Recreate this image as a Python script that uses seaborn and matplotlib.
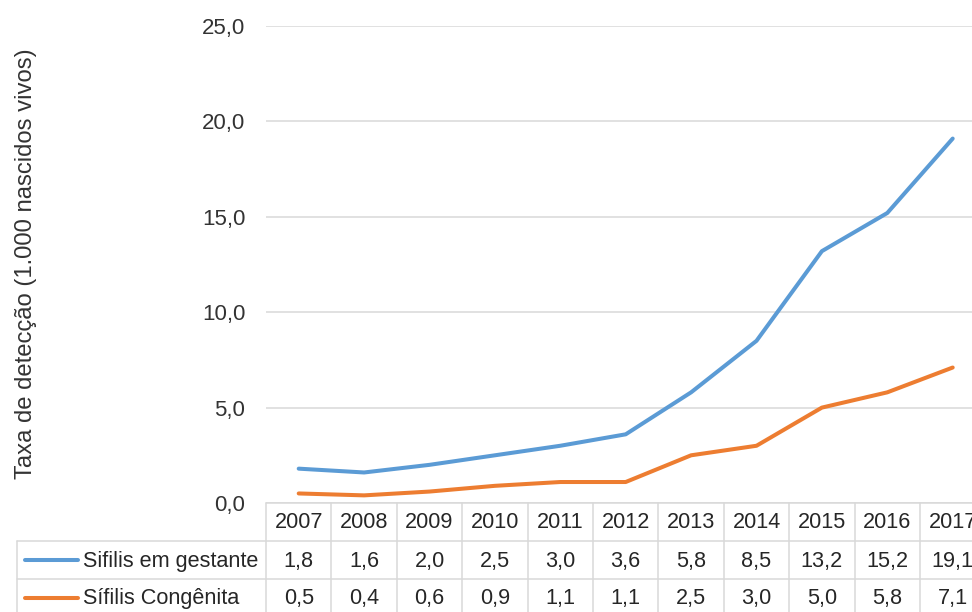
import matplotlib
matplotlib.use("Agg")
import matplotlib.pyplot as plt
import matplotlib.transforms as mtransforms
from matplotlib.lines import Line2D
import seaborn as sns
import pandas as pd

years = ["2007", "2008", "2009", "2010", "2011", "2012", "2013", "2014", "2015", "2016", "2017"]
gestante = [1.8, 1.6, 2.0, 2.5, 3.0, 3.6, 5.8, 8.5, 13.2, 15.2, 19.1]
congenita = [0.5, 0.4, 0.6, 0.9, 1.1, 1.1, 2.5, 3.0, 5.0, 5.8, 7.1]
series_names = ["Sifilis em gestante", "Sífilis Congênita"]
colors = ["#5B9BD5", "#ED7D31"]
y_label = "Taxa de detecção (1.000 nascidos vivos)"
y_ticks = [0, 5, 10, 15, 20, 25]

sns.set_theme(style="white")
plt.rcParams['font.family'] = ['Liberation Sans', 'DejaVu Sans']

W, H = 972, 612
fig = plt.figure(figsize=(W / 100, H / 100), dpi=100)
left, right = 266, 985.4
top, bottom = 26, 503
ax = fig.add_axes([left / W, 1 - bottom / H, (right - left) / W, (bottom - top) / H])

df = pd.DataFrame({
    "pos": list(range(len(years))) * 2,
    "valor": gestante + congenita,
    "serie": [series_names[0]] * len(years) + [series_names[1]] * len(years),
})
sns.lineplot(data=df, x="pos", y="valor", hue="serie", palette=colors,
             linewidth=2.9, ax=ax, legend=False, solid_capstyle="round",
             solid_joinstyle="round")

ax.set_xlim(-0.5, len(years) - 0.5)
ax.set_ylim(0, 25)
ax.set_yticks(y_ticks)
ax.set_yticklabels([f"{v:.1f}".replace(".", ",") for v in y_ticks], fontsize=16, color="#333333")
ax.set_xticks([])
ax.tick_params(axis="y", length=0, pad=15)
ax.grid(axis="y", color="#D9D9D9", linewidth=1.1)
ax.set_axisbelow(True)
for s in ax.spines.values():
    s.set_visible(False)
ax.set_xlabel("")
ax.set_ylabel("")

fig.text(26 / W, 1 - 264 / H, y_label, rotation=90, ha="center", va="center",
         fontsize=17.2, color="#333333")

# data table
trans = mtransforms.blended_transform_factory(ax.transData, fig.transFigure)
gc = "#D9D9D9"
row_y = [503, 541, 579, 616]
fy = lambda p: 1 - p / H
tab_left = 17
n = len(years)
fig.add_artist(Line2D([-0.5, n - 0.5], [fy(503)] * 2, transform=trans, color=gc, lw=1.1, clip_on=False))
for yy in row_y[1:3]:
    fig.add_artist(Line2D([tab_left / W, 1.1], [fy(yy)] * 2, transform=fig.transFigure, color=gc, lw=1.1))
fig.add_artist(Line2D([tab_left / W] * 2, [fy(541), fy(616)], transform=fig.transFigure, color=gc, lw=1.1))
for i in range(n + 1):
    fig.add_artist(Line2D([i - 0.5] * 2, [fy(503), fy(616)], transform=trans, color=gc, lw=1.1, clip_on=False))

tc = "#262626"
fs = 15.6
for i, yr in enumerate(years):
    fig.text(i, fy((503 + 541) / 2 + 1), yr, transform=trans, ha="center", va="center", fontsize=fs, color=tc)
for r, vals in enumerate([gestante, congenita]):
    yc = (row_y[r + 1] + row_y[r + 2]) / 2 + 1
    for i, v in enumerate(vals):
        fig.text(i, fy(yc), f"{v:.1f}".replace(".", ","), transform=trans,
                 ha="center", va="center", fontsize=fs, color=tc)
    fig.add_artist(Line2D([25 / W, 78 / W], [fy(yc - 1)] * 2, transform=fig.transFigure,
                          color=colors[r], lw=2.9, solid_capstyle="round"))
    fig.text(83 / W, fy(yc), series_names[r], ha="left", va="center", fontsize=fs, color=tc)

fig.savefig("out.png", dpi=100)
